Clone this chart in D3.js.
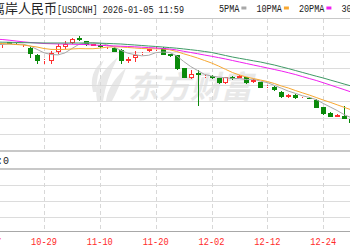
<!DOCTYPE html>
<html>
<head>
<meta charset="utf-8">
<script src="https://cdn.jsdelivr.net/npm/d3@7"></script>
<style>
  body { margin: 0; background: #fff; }
  svg { display: block; }
</style>
</head>
<body>
<div id="wrapper"></div>
<script>
// daily candles, USDCNH
const dates = ["10-17","10-20","10-21","10-22","10-23","10-24","10-27","10-28","10-29","10-30","10-31",
  "11-03","11-04","11-05","11-06","11-07","11-10","11-11","11-12","11-13","11-14","11-17","11-18","11-19","11-20","11-21",
  "11-24","11-25","11-26","11-27","11-28","12-01","12-02","12-03","12-04","12-05","12-08","12-09","12-10","12-11","12-12",
  "12-15","12-16","12-17","12-18","12-19","12-22","12-23","12-24","12-25","12-26","12-29","12-30"];

const open = [7.1105, 7.1135, 7.1105, 7.1143, 7.1127, 7.1105,
  7.1059, 7.0952, 7.0854, 7.0861, 7.0998,
  7.1074, 7.1135, 7.1211, 7.1165, 7.1094,
  7.1105, 7.1067, 7.1059, 7.1036, 7.0854,
  7.0914, 7.0968, 7.1006, 7.1021, 7.1059,
  7.0968, 7.0952, 7.0755, 7.0610, 7.0686,
  7.0618, 7.0633, 7.0603, 7.0527, 7.0625,
  7.0610, 7.0618, 7.0542, 7.0542, 7.0466,
  7.0473, 7.0397, 7.0318, 7.0344, 7.0283,
  7.0303, 7.0268, 7.0162, 7.0070, 7.0017,
  7.0025, 6.9979];
const close = [7.1120, 7.1105, 7.1120, 7.1127, 7.1112, 7.1120,
  7.0968, 7.0861, 7.0869, 7.0983, 7.1089,
  7.1120, 7.1196, 7.1181, 7.1097, 7.1120,
  7.1067, 7.1082, 7.0998, 7.0854, 7.0899,
  7.0960, 7.0987, 7.1041, 7.1048, 7.0952,
  7.0930, 7.0732, 7.0610, 7.0664, 7.0648,
  7.0633, 7.0610, 7.0527, 7.0618, 7.0587,
  7.0630, 7.0527, 7.0565, 7.0458, 7.0481,
  7.0420, 7.0314, 7.0341, 7.0291, 7.0303,
  7.0291, 7.0146, 7.0048, 7.0017, 7.0040,
  6.9979, 6.9918];
const high = [7.1135, 7.1150, 7.1127, 7.1150, 7.1135, 7.1127,
  7.1074, 7.0968, 7.0892, 7.1013, 7.1120,
  7.1165, 7.1211, 7.1234, 7.1173, 7.1127,
  7.1120, 7.1097, 7.1067, 7.1044, 7.0922,
  7.1006, 7.0998, 7.1051, 7.1067, 7.1067,
  7.0975, 7.0960, 7.0762, 7.0717, 7.0717,
  7.0641, 7.0648, 7.0610, 7.0625, 7.0633,
  7.0641, 7.0625, 7.0580, 7.0549, 7.0489,
  7.0481, 7.0405, 7.0352, 7.0352, 7.0314,
  7.0321, 7.0276, 7.0169, 7.0078, 7.0055,
  7.0177, 6.9994];
const low = [7.1074, 7.1089, 7.1059, 7.1120, 7.1105, 7.1074,
  7.0907, 7.0816, 7.0816, 7.0816, 7.0968,
  7.1044, 7.1120, 7.1158, 7.1089, 7.1089,
  7.1059, 7.1044, 7.0991, 7.0816, 7.0831,
  7.0846, 7.0952, 7.0998, 7.1013, 7.0945,
  7.0922, 7.0724, 7.0603, 7.0595, 7.0177,
  7.0603, 7.0595, 7.0519, 7.0519, 7.0572,
  7.0603, 7.0519, 7.0527, 7.0451, 7.0451,
  7.0405, 7.0306, 7.0306, 7.0283, 7.0276,
  7.0276, 7.0139, 7.0040, 7.0010, 7.0002,
  6.9972, 6.9903];

// moving averages
const ma5 = [7.1112, 7.1112, 7.1112, 7.1120, 7.1117, 7.1117,
  7.1089, 7.1038, 7.0986, 7.0960, 7.0954,
  7.0984, 7.1051, 7.1114, 7.1137, 7.1143,
  7.1132, 7.1109, 7.1073, 7.1024, 7.0980,
  7.0959, 7.0940, 7.0948, 7.0987, 7.0998,
  7.0992, 7.0940, 7.0855, 7.0778, 7.0717,
  7.0657, 7.0633, 7.0616, 7.0607, 7.0595,
  7.0595, 7.0578, 7.0586, 7.0554, 7.0533,
  7.0490, 7.0448, 7.0403, 7.0370, 7.0333,
  7.0308, 7.0274, 7.0216, 7.0162, 7.0108,
  7.0046, 7.0000];
const ma10 = [7.1135, 7.1130, 7.1127, 7.1120, 7.1112, 7.1105,
  7.1089, 7.1074, 7.1051, 7.1038, 7.1036,
  7.1038, 7.1044, 7.1050, 7.1048, 7.1048,
  7.1057, 7.1071, 7.1077, 7.1074, 7.1067,
  7.1059, 7.1051, 7.1048, 7.1047, 7.1044,
  7.1032, 7.1006, 7.0971, 7.0940, 7.0907,
  7.0869, 7.0831, 7.0785, 7.0735, 7.0686,
  7.0648, 7.0618, 7.0595, 7.0572, 7.0549,
  7.0519, 7.0481, 7.0451, 7.0413, 7.0378,
  7.0344, 7.0306, 7.0268, 7.0233, 7.0195,
  7.0157, 7.0119];
const ma20 = [7.1196, 7.1193, 7.1188, 7.1178, 7.1165, 7.1153,
  7.1143, 7.1135, 7.1127, 7.1124, 7.1120,
  7.1120, 7.1117, 7.1114, 7.1111, 7.1105,
  7.1100, 7.1095, 7.1091, 7.1086, 7.1082,
  7.1077, 7.1071, 7.1065, 7.1059, 7.1051,
  7.1044, 7.1029, 7.1009, 7.0991, 7.0972,
  7.0952, 7.0933, 7.0913, 7.0892, 7.0869,
  7.0846, 7.0823, 7.0800, 7.0778, 7.0755,
  7.0732, 7.0709, 7.0683, 7.0656, 7.0625,
  7.0595, 7.0565, 7.0531, 7.0496, 7.0461,
  7.0426, 7.0390];
const ma30 = [7.1150, 7.1150, 7.1147, 7.1146, 7.1143, 7.1141,
  7.1138, 7.1137, 7.1135, 7.1135, 7.1135,
  7.1135, 7.1135, 7.1135, 7.1135, 7.1133,
  7.1132, 7.1129, 7.1124, 7.1120, 7.1112,
  7.1105, 7.1097, 7.1089, 7.1082, 7.1074,
  7.1065, 7.1056, 7.1045, 7.1033, 7.1021,
  7.1006, 7.0991, 7.0968, 7.0945, 7.0922,
  7.0902, 7.0884, 7.0864, 7.0846, 7.0823,
  7.0800, 7.0773, 7.0746, 7.0717, 7.0688,
  7.0659, 7.0630, 7.0603, 7.0572, 7.0542,
  7.0511, 7.0481];

const maNames = ["5PMA", "10PMA", "20PMA", "30PMA"];
const maColors = ["#a8a8a8", "#f8a832", "#f020f0", "#3f9a66"];
const tickDates = ["10-17", "10-29", "11-10", "11-20", "12-02", "12-12", "12-24"];
const priceGrid = [7.125, 7.10, 7.075, 7.05, 7.025, 7.00, 6.975];
const subGrid = [1, 2, 3];

const width = 350, height = 250;
const mainTop = 19, mainBottom = 150.5, subTop = 169, subBottom = 233, axisY = 231;

const svg = d3.select("#wrapper").append("svg")
    .attr("width", width)
    .attr("height", height);

// scales
const xScale = d3.scaleLinear()
  .domain([dates.indexOf("10-29"), dates.indexOf("12-24")])
  .range([44, 323.2]);
const yScale = d3.scaleLinear()
  .domain([6.95, 7.15])
  .range([mainBottom, mainTop]);
const subScale = d3.scaleLinear()
  .domain([0, 4])
  .range([subBottom, subTop]);

const px = v => Math.round(v) + 0.5;

// watermark
const mark = svg.append("g").attr("fill", "#e8e8e8");
mark.append("path")
  .attr("d", "M97,101 Q92,78 118,57 Q106,80 103,101 Z M106,101 Q108,84 126,68 Q119,88 112,101 Z M93,92 Q88,72 104,60 Q95,76 97,92 Z");
mark.append("text")
  .attr("x", 128).attr("y", 98)
  .style("font", "italic bold 31px 'Noto Sans CJK SC'")
  .text("东方财富");

// horizontal grid
const grid = svg.append("g").attr("shape-rendering", "crispEdges");
grid.selectAll(".hgrid")
    .data(priceGrid)
  .enter().append("line")
    .attr("x1", 0).attr("x2", width)
    .attr("y1", d => px(yScale(d))).attr("y2", d => px(yScale(d)))
    .attr("stroke", "#dcdcdc");
grid.selectAll(".sgrid")
    .data(subGrid)
  .enter().append("line")
    .attr("x1", 0).attr("x2", width)
    .attr("y1", d => px(subScale(d))).attr("y2", d => px(subScale(d)))
    .attr("stroke", "#dcdcdc");

// vertical dashed grid, both panels
tickDates.forEach(t => {
  const x = px(xScale(dates.indexOf(t)));
  [[mainTop, mainBottom], [subTop, axisY]].forEach(([a, b]) => {
    grid.append("line")
      .attr("x1", x).attr("x2", x).attr("y1", a).attr("y2", b)
      .attr("stroke", "#d8d8d8")
      .attr("stroke-dasharray", "4,3");
  });
});

// panel borders
grid.append("line").attr("x1", 0).attr("x2", width).attr("y1", 18.5).attr("y2", 18.5).attr("stroke", "#c8c8c8");
grid.append("rect").attr("x", 0).attr("y", 150).attr("width", width).attr("height", 2).attr("fill", "#c8c8c8");
grid.append("rect").attr("x", 0).attr("y", 168).attr("width", width).attr("height", 2).attr("fill", "#c8c8c8");
grid.append("line").attr("x1", 0).attr("x2", width).attr("y1", axisY + 0.5).attr("y2", axisY + 0.5).attr("stroke", "#a8a8a8");

// candles
const candles = dates.map((d, i) => ({ i, o: open[i], c: close[i], h: high[i], l: low[i] }));
const up = "#ff3030", down = "#0a8a0a";
const cg = svg.append("g").attr("shape-rendering", "crispEdges");
candles.forEach(d => {
  const x = px(xScale(d.i));
  const isUp = d.c >= d.o;
  const col = isUp ? up : down;
  const top = Math.round(yScale(Math.max(d.o, d.c)));
  const bot = Math.max(top + 1, Math.round(yScale(Math.min(d.o, d.c))));
  cg.append("line").attr("x1", x).attr("x2", x)
    .attr("y1", Math.round(yScale(d.h))).attr("y2", top).attr("stroke", col);
  cg.append("line").attr("x1", x).attr("x2", x)
    .attr("y1", bot).attr("y2", Math.round(yScale(d.l))).attr("stroke", col);
  if (isUp) {
    cg.append("rect")
      .attr("x", x - 2).attr("y", top + 0.5)
      .attr("width", 4).attr("height", Math.max(0, bot - top - 1))
      .attr("fill", "#fff").attr("stroke", col);
  } else {
    cg.append("rect")
      .attr("x", x - 2.5).attr("y", top)
      .attr("width", 5).attr("height", bot - top)
      .attr("fill", col);
  }
});

// MA lines
const maSeries = [ma5, ma10, ma20, ma30];
const lineGen = d3.line()
  .x((d, i) => xScale(i))
  .y(d => yScale(d));
maSeries.forEach((s, k) => {
  svg.append("path")
    .attr("d", lineGen(s))
    .attr("fill", "none")
    .attr("stroke", maColors[k])
    .attr("stroke-width", 1);
});

// x labels
svg.selectAll(".xlabel")
    .data(tickDates)
  .enter().append("text")
    .attr("x", d => xScale(dates.indexOf(d)))
    .attr("y", 245)
    .attr("text-anchor", "middle")
    .attr("textLength", 26)
    .attr("lengthAdjust", "spacingAndGlyphs")
    .attr("fill", "#ff2a2a")
    .style("font", "10px 'Liberation Mono'")
    .text(d => d);

// title
const title = svg.append("text").attr("y", 12.5).attr("fill", "#222");
title.append("tspan").attr("x", -8)
  .style("font", "13px 'Noto Sans CJK SC'")
  .text("离岸人民币");
title.append("tspan").attr("x", 57)
  .attr("textLength", 127).attr("lengthAdjust", "spacingAndGlyphs")
  .style("font", "10px 'Liberation Mono'")
  .text("[USDCNH] 2026-01-05 11:59");

// legend
let lx = 219;
maNames.forEach((name, k) => {
  const w = name.length * 5.1;
  svg.append("text")
    .attr("x", lx).attr("y", 12)
    .attr("textLength", w).attr("lengthAdjust", "spacingAndGlyphs")
    .attr("fill", "#222")
    .style("font", "10px 'Liberation Mono'")
    .text(name);
  svg.append("rect")
    .attr("x", lx + w + 2).attr("y", 6.5)
    .attr("width", 5).attr("height", 3)
    .attr("fill", maColors[k]);
  lx += w + 17;
});

// sub panel label
svg.append("text")
  .attr("x", 9).attr("y", 164)
  .attr("text-anchor", "end")
  .attr("fill", "#222")
  .style("font", "10px 'Liberation Mono'")
  .text("成交量:0");
</script>
</body>
</html>
